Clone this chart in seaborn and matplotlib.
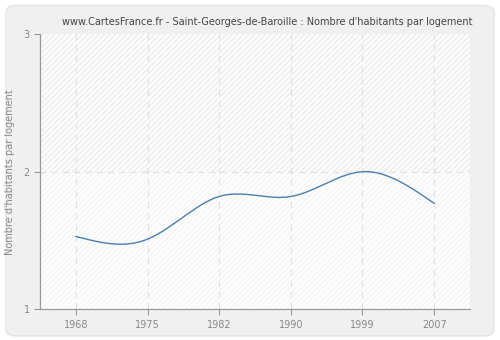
import numpy as np
import pandas as pd
import matplotlib
matplotlib.use("Agg")
import matplotlib.pyplot as plt
from matplotlib.patches import FancyBboxPatch, Rectangle
import seaborn as sns

years = ["1968", "1975", "1982", "1990", "1999", "2007"]
values = [1.53, 1.51, 1.82, 1.82, 2.00, 1.77]
y_ticks = [1, 2, 3]
title = "www.CartesFrance.fr - Saint-Georges-de-Baroille : Nombre d'habitants par logement"
y_label = "Nombre d'habitants par logement"


def natural_spline(x, y, n=400):
    x = np.asarray(x, float)
    y = np.asarray(y, float)
    k = len(x)
    h = np.diff(x)
    A = np.zeros((k, k))
    b = np.zeros(k)
    A[0, 0] = A[-1, -1] = 1.0
    for i in range(1, k - 1):
        A[i, i - 1] = h[i - 1]
        A[i, i] = 2 * (h[i - 1] + h[i])
        A[i, i + 1] = h[i]
        b[i] = 3 * ((y[i + 1] - y[i]) / h[i] - (y[i] - y[i - 1]) / h[i - 1])
    c = np.linalg.solve(A, b)
    xs = np.linspace(x[0], x[-1], n)
    idx = np.clip(np.searchsorted(x, xs) - 1, 0, k - 2)
    dx = xs - x[idx]
    bb = (y[idx + 1] - y[idx]) / h[idx] - h[idx] * (2 * c[idx] + c[idx + 1]) / 3
    dd = (c[idx + 1] - c[idx]) / (3 * h[idx])
    ys = y[idx] + bb * dx + c[idx] * dx ** 2 + dd * dx ** 3
    return xs, ys


sns.set_style("white")
plt.rcParams["font.family"] = ["DejaVu Sans"]

fig = plt.figure(figsize=(5.0, 3.4), dpi=100, facecolor="#ffffff")
panel = FancyBboxPatch((0.012, 0.012), 0.976, 0.972, boxstyle="round,pad=0,rounding_size=0.02",
                       transform=fig.transFigure, facecolor="#f0f0f0", edgecolor="#e4e4e4",
                       linewidth=1.0, zorder=-10)
fig.patches.append(panel)

ax = fig.add_axes([0.08, 0.09, 0.86, 0.81])
ax.set_facecolor("#fcfcfc")

pos = np.arange(len(years))
ax.set_xlim(-0.5, len(years) - 0.5)
ax.set_ylim(1, 3)

# hatched background bands
ax.add_patch(Rectangle((-0.5, 2), len(years), 1, facecolor="#fdfdfd", edgecolor="#ededed",
                       hatch="//////", linewidth=0, zorder=0))
ax.add_patch(Rectangle((-0.5, 1), len(years), 1, facecolor="#fdfdfd", edgecolor="#f5f5f5",
                       hatch="//////", linewidth=0, zorder=0))

for p in pos:
    ax.axvline(p, color="#e2e2e2", linestyle=(0, (5, 4)), linewidth=0.9, zorder=1)
ax.axhline(2, color="#e2e2e2", linestyle=(0, (5, 4)), linewidth=0.9, zorder=1)

xs, ys = natural_spline(pos, values)
curve = pd.DataFrame({"x": xs, "y": ys})
sns.lineplot(data=curve, x="x", y="y", ax=ax, color="#4d7eae", linewidth=1.0, zorder=3)

ax.set_xticks(pos)
ax.set_xticklabels(years)
ax.set_yticks(y_ticks)
ax.set_yticklabels([str(t) for t in y_ticks])
ax.tick_params(axis="both", colors="#999999", labelcolor="#888888", labelsize=7,
               length=4, width=0.8, direction="out", bottom=True, left=True)
ax.set_xlabel("")
ax.set_ylabel(y_label, color="#888888", fontsize=7, labelpad=6)

for s in ["top", "right"]:
    ax.spines[s].set_visible(False)
for s in ["left", "bottom"]:
    ax.spines[s].set_color("#999999")
    ax.spines[s].set_linewidth(0.9)

fig.text(0.535, 0.935, title, ha="center", va="center", fontsize=7, color="#444444")

fig.savefig("out.png", dpi=100, facecolor=fig.get_facecolor())
